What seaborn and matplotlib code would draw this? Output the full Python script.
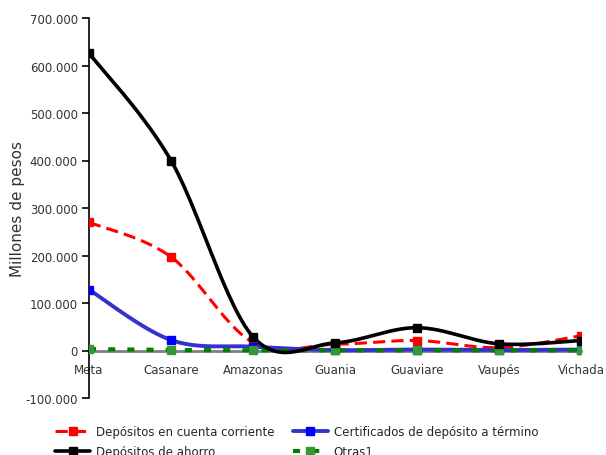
import numpy as np
import pandas as pd
import matplotlib
matplotlib.use("Agg")
import matplotlib.pyplot as plt
import seaborn as sns
from matplotlib.lines import Line2D
from matplotlib.ticker import FuncFormatter

categories = ["Meta", "Casanare", "Amazonas", "Guania", "Guaviare", "Vaupés", "Vichada"]
corriente = [270000, 197000, 17000, 13000, 21000, 6000, 31000]
termino = [128000, 22000, 8000, 1000, 2000, 1000, 2000]
ahorro = [626000, 400000, 29000, 16000, 48000, 14000, 21000]
otras = [3000, 1000, 500, 300, 500, 300, 400]

series_names = ["Depósitos en cuenta corriente", "Certificados de depósito a término",
                "Depósitos de ahorro", "Otras1"]
series_vals = [corriente, termino, ahorro, otras]

sns.set_theme(style="white")
plt.rcParams['font.family'] = ['DejaVu Sans']

fig = plt.figure(figsize=(6.06, 4.56), dpi=100)
ax = fig.add_axes([89/606, 1-399/456, (581-89)/606, (399-19)/456])


def smooth(y, n=30):
    x = np.arange(len(y), dtype=float)
    y = np.asarray(y, dtype=float)
    P = np.column_stack([x, y])
    out = []
    for i in range(len(P)-1):
        p0 = P[i-1] if i > 0 else P[i]
        p1 = P[i]
        p2 = P[i+1]
        p3 = P[i+2] if i+2 < len(P) else P[i+1]
        c1 = p1 + (p2-p0)/6
        c2 = p2 - (p3-p1)/6
        t = np.linspace(0, 1, n, endpoint=(i == len(P)-2))[:, None]
        b = (1-t)**3*p1 + 3*(1-t)**2*t*c1 + 3*(1-t)*t**2*c2 + t**3*p2
        out.append(b)
    return np.vstack(out)

styles = {
    "Depósitos en cuenta corriente": dict(color="#ff0000", lw=2.2, ls=(0, (4, 2)), mc="#ff0000"),
    "Certificados de depósito a término": dict(color="#3333cc", lw=2.8, ls="-", mc="#0000ff"),
    "Depósitos de ahorro": dict(color="#000000", lw=2.6, ls="-", mc="#000000"),
    "Otras1": dict(color="#008000", lw=3.0, ls=(0, (1.7, 2.9)), mc="#339933"),
}

order = ["Depósitos en cuenta corriente", "Certificados de depósito a término",
         "Otras1", "Depósitos de ahorro"]
for name in order:
    vals = series_vals[series_names.index(name)]
    st = styles[name]
    pts = smooth(vals)
    df = pd.DataFrame({"x": pts[:, 0], "y": pts[:, 1]})
    sns.lineplot(data=df, x="x", y="y", sort=False, ax=ax, color=st["color"],
                 lw=st["lw"], linestyle=st["ls"], estimator=None)
    dfm = pd.DataFrame({"x": np.arange(len(vals)), "y": vals})
    ax.plot(dfm["x"], dfm["y"], ls="none", marker="s", ms=6, color=st["mc"], zorder=5)

ax.set_xlim(0, 6)
ax.set_ylim(-100000, 700000)
ax.set_yticks(np.arange(-100000, 700001, 100000))
ax.yaxis.set_major_formatter(FuncFormatter(lambda v, p: "0" if v == 0 else f"{int(v):,}".replace(",", ".")))
ax.set_xticks(range(len(categories)))
ax.set_xticklabels(categories)
ax.spines['bottom'].set_position(('data', 0))
ax.spines['bottom'].set_color('#808080')
ax.spines['bottom'].set_linewidth(2)
ax.spines['bottom'].set_zorder(1)
ax.spines['top'].set_visible(False)
ax.spines['right'].set_visible(False)
ax.spines['left'].set_color('black')
ax.spines['left'].set_linewidth(1.2)
ax.tick_params(axis='x', length=0, pad=9, labelsize=8.5, labelcolor="#333333")
ax.tick_params(axis='y', left=True, length=5, width=1.2, direction='out', pad=3,
               labelsize=8.5, labelcolor="#333333", color='black')
ax.set_xlabel("")
ax.set_ylabel("Millones de pesos", fontsize=11, color="#333333")
ax.yaxis.label.set_va('center')
ax.yaxis.set_label_coords(-71/492, 0.5)
ax.grid(False)
for lbl in ax.get_xticklabels():
    lbl.set_zorder(10)

handles = []
for name in ["Depósitos en cuenta corriente", "Depósitos de ahorro",
             "Certificados de depósito a término", "Otras1"]:
    st = styles[name]
    handles.append(Line2D([0], [0], color=st["color"], lw=st["lw"], ls=st["ls"],
                          marker="s", ms=6, markerfacecolor=st["mc"], markeredgecolor=st["mc"]))
labels = ["Depósitos en cuenta corriente", "Depósitos de ahorro",
          "Certificados de depósito a término", "Otras1"]
fig.legend(handles, labels, ncol=2, loc="upper left", bbox_to_anchor=(55/606, 1-426/456),
           frameon=False, fontsize=8.5, handlelength=3.0, handletextpad=0.5,
           columnspacing=1.5, labelspacing=0.6, borderaxespad=0, borderpad=0)

fig.savefig("out.png", dpi=100)
